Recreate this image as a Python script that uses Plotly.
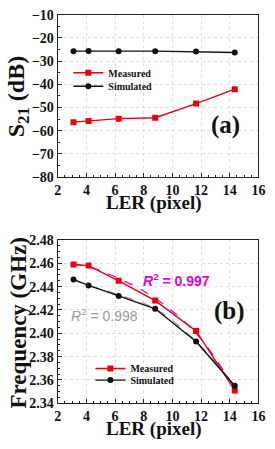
import plotly.graph_objects as go

ler = [3.1, 4.15, 6.25, 8.8, 11.65, 14.35]
s21_measured = [-56.3, -55.8, -54.8, -54.4, -48.3, -42.1]
s21_simulated = [-25.7, -25.6, -25.7, -25.7, -25.9, -26.3]
freq_measured = [2.459, 2.458, 2.445, 2.428, 2.402, 2.351]
freq_simulated = [2.446, 2.441, 2.432, 2.421, 2.393, 2.355]
fit_measured = [2.459, 2.457, 2.447, 2.430, 2.400, 2.353]
fit_simulated = [2.446, 2.441, 2.433, 2.421, 2.393, 2.355]

s21_ticks = [-80, -70, -60, -50, -40, -30, -20, -10]
s21_ticktext = ["\u221280", "\u221270", "\u221260", "\u221250", "\u221240", "\u221230", "\u221220", "\u221210"]

RED = "#e8000b"
BLK = "#111111"
SERIF = "Liberation Serif"
W, H = 275, 449


def px(x):
    return x / W


def py(y):
    return 1 - y / H


fig = go.Figure()

# fit curves (drawn first, underneath)
fig.add_trace(go.Scatter(x=ler, y=fit_measured, mode="lines",
                         line=dict(color="#e000e0", width=1.3, dash="dash", shape="spline"),
                         xaxis="x2", yaxis="y2", showlegend=False))
fig.add_trace(go.Scatter(x=ler, y=fit_simulated, mode="lines",
                         line=dict(color="#999999", width=1.3, dash="dash", shape="spline"),
                         xaxis="x2", yaxis="y2", showlegend=False))

series = [
    (s21_measured, "Measured", RED, "square", "x", "y", "legend"),
    (s21_simulated, "Simulated", BLK, "circle", "x", "y", "legend2"),
    (freq_measured, "Measured", RED, "square", "x2", "y2", "legend3"),
    (freq_simulated, "Simulated", BLK, "circle", "x2", "y2", "legend4"),
]
for vals, name, col, sym, xa, ya, lg in series:
    fig.add_trace(go.Scatter(x=ler, y=vals, mode="lines+markers", name=name,
                             line=dict(color=col, width=1.4),
                             marker=dict(symbol=sym, size=6, color=col),
                             xaxis=xa, yaxis=ya, legend=lg))

common_axis = dict(showline=True, mirror=True, linecolor="#222", linewidth=1.2,
                   ticks="inside", ticklen=4, tickwidth=1, tickcolor="#222",
                   minor=dict(ticks="inside", ticklen=2, tickcolor="#222"),
                   showgrid=True, gridcolor="#dddddd", griddash="dot", gridwidth=1,
                   zeroline=False,
                   tickfont=dict(family=SERIF, size=14, color="#111", weight="bold"))

x_dom = [px(56), px(265)]


def leg(x, y):
    return dict(x=px(x), y=py(y), xanchor="left", yanchor="middle",
                bgcolor="rgba(0,0,0,0)", borderwidth=0,
                font=dict(family=SERIF, size=10, color="#111", weight="bold"),
                itemwidth=30)


fig.update_layout(
    width=W, height=H, margin=dict(l=0, r=0, t=0, b=0),
    paper_bgcolor="white", plot_bgcolor="white",
    xaxis=dict(domain=x_dom, range=[2, 16], dtick=2, anchor="y", **common_axis),
    yaxis=dict(domain=[py(176), py(8)], range=[-80, -10], anchor="x",
               tickvals=s21_ticks, ticktext=s21_ticktext, **common_axis),
    xaxis2=dict(domain=x_dom, range=[2, 16], dtick=2, anchor="y2", **common_axis),
    yaxis2=dict(domain=[py(410), py(241)], range=[2.34, 2.48], dtick=0.02, anchor="x2",
                tickformat=".2f", **common_axis),
    legend=leg(67, 68),
    legend2=leg(67, 82),
    legend3=leg(90, 374),
    legend4=leg(90, 386),
    showlegend=True,
)


def ann(text, x, y, font, angle=0):
    fig.add_annotation(text=text, x=px(x), y=py(y), xref="paper", yref="paper",
                       xanchor="center", yanchor="middle", showarrow=False,
                       textangle=angle, font=font)


def tfont(size):
    return dict(family=SERIF, size=size, color="#111", weight="bold")


ann("LER (pixel)", 156, 203, tfont(19))
ann("LER (pixel)", 156, 437, tfont(19))
ann("S<sub>21</sub> (dB)", 14, 93, tfont(24), -90)
ann("Frequency (GHz)", 15, 327, tfont(23), -90)
ann("(a)", 231, 122, tfont(25))
ann("(b)", 235, 314, tfont(25))
ann("<i>R</i><sup>2</sup> = 0.997", 180, 282,
    dict(family="Liberation Sans", size=14, color="#e000e0", weight="bold"))
ann("<i>R</i><sup>2</sup> = 0.998", 105, 319,
    dict(family="Liberation Sans", size=14, color="#9a9a9a"))

fig.write_html("out.html", config={"displayModeBar": False},
               post_script="document.body.style.margin='0';document.body.style.overflow='hidden';")
